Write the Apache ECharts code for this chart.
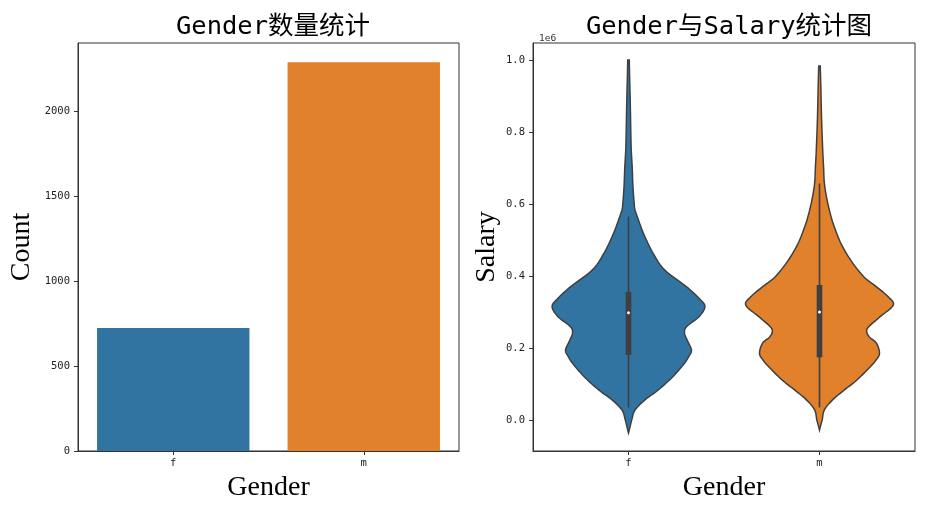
<!DOCTYPE html>
<html>
<head>
<meta charset="utf-8">
<script src="https://cdn.jsdelivr.net/npm/echarts@6/dist/echarts.min.js"></script>
<style>html,body{margin:0;padding:0;background:#fff}#c{width:929px;height:521px}</style>
</head>
<body>
<div id="c"></div>
<script>
// ---- data ----
const genders = ['f', 'm'];
const counts = [724, 2288];
const countTicks = [0, 500, 1000, 1500, 2000];
const salaryTicks = [0, 200000, 400000, 600000, 800000, 1000000];

// violin outlines: salary level and relative half-width (1 = widest)
const fLevels = [1000000, 950000, 900000, 850000, 800000, 750000, 700000, 650000, 600000, 583000, 556000, 530000, 509000, 463000, 417000, 370000, 338000, 315000, 287000, 259000, 241000, 220000, 194000, 175000, 157000, 120000, 83000, 56000, 28000, 0, -20000, -36000];
const fWidths = [0.010, 0.015, 0.021, 0.026, 0.030, 0.036, 0.049, 0.058, 0.075, 0.086, 0.129, 0.174, 0.215, 0.322, 0.472, 0.760, 0.923, 1.0, 0.923, 0.759, 0.734, 0.772, 0.824, 0.785, 0.730, 0.579, 0.386, 0.215, 0.086, 0.042, 0.019, 0];
const mLevels = [983000, 930000, 880000, 830000, 750000, 700000, 657000, 611000, 565000, 537000, 491000, 444000, 398000, 370000, 342000, 319000, 287000, 259000, 245000, 230000, 213000, 185000, 165000, 148000, 111000, 83000, 56000, 28000, 0, -15000, -28000];
const mWidths = [0.010, 0.017, 0.022, 0.028, 0.042, 0.054, 0.064, 0.099, 0.151, 0.193, 0.279, 0.408, 0.579, 0.746, 0.901, 0.965, 0.794, 0.644, 0.618, 0.656, 0.746, 0.785, 0.734, 0.665, 0.489, 0.322, 0.171, 0.064, 0.035, 0.015, 0];

// inner box statistics
const q1 = [181000, 174000];
const medians = [298000, 300000];
const q3 = [356000, 375000];
const whiskerLow = [35000, 35000];
const whiskerHigh = [565000, 657000];

const palette = ['#3274A1', '#E1812C'];
const levelsAll = [fLevels, mLevels];
const widthsAll = [fWidths, mWidths];

const titleFont = "'DejaVu Sans Mono', 'Noto Sans CJK SC', monospace";
const tickFont = "'DejaVu Sans Mono', monospace";
const serif = "'Liberation Serif', 'DejaVu Serif', serif";
const dark = '#3f3f3f';

function catmull(pts, n) {
  const out = [];
  for (let j = 0; j < pts.length - 1; j++) {
    const p0 = pts[j - 1] || pts[j], p1 = pts[j], p2 = pts[j + 1], p3 = pts[j + 2] || pts[j + 1];
    for (let s = 0; s < n; s++) {
      const t = s / n, t2 = t * t, t3 = t2 * t;
      const f = k => 0.5 * ((2 * p1[k]) + (-p0[k] + p2[k]) * t + (2 * p0[k] - 5 * p1[k] + 4 * p2[k] - p3[k]) * t2 + (-p0[k] + 3 * p1[k] - 3 * p2[k] + p3[k]) * t3);
      out.push([Math.max(0, f(0)), f(1)]);
    }
  }
  out.push(pts[pts.length - 1]);
  return out;
}

function renderViolin(params, api) {
  const i = api.value(0);
  const lv = levelsAll[i], wd = widthsAll[i];
  const band = api.size([1, 0])[0];
  const half = band * 0.4;
  const cx = api.coord([i, 0])[0];
  const pts = lv.map((s, k) => [wd[k] * half, api.coord([i, s])[1]]);
  const curve = catmull(pts, 10);
  const right = curve.map(p => [cx + p[0], p[1]]);
  const left = curve.slice().reverse().map(p => [cx - p[0], p[1]]);
  const yq1 = api.coord([i, q1[i]])[1], yq3 = api.coord([i, q3[i]])[1];
  const ylo = api.coord([i, whiskerLow[i]])[1], yhi = api.coord([i, whiskerHigh[i]])[1];
  const ymed = api.coord([i, medians[i]])[1];
  return {
    type: 'group',
    children: [
      { type: 'polygon', shape: { points: right.concat(left) },
        style: { fill: palette[i], stroke: dark, lineWidth: 1.5 } },
      { type: 'line', shape: { x1: cx, y1: yhi, x2: cx, y2: ylo },
        style: { stroke: dark, lineWidth: 1.6 } },
      { type: 'rect', shape: { x: cx - 2.8, y: yq3, width: 5.6, height: yq1 - yq3 },
        style: { fill: dark } },
      { type: 'circle', shape: { cx: cx, cy: ymed, r: 1.5 },
        style: { fill: '#fff' } }
    ]
  };
}

const chart = echarts.init(document.getElementById('c'), null, { renderer: 'canvas' });
const axisLineStyle = { color: '#333', width: 1 };
const tickStyle = { show: true, length: 4, lineStyle: { color: '#333' } };
const option = {
  animation: false,
  backgroundColor: '#fff',
  title: [
    { text: 'Gender数量统计', left: 268, top: 10, textAlign: 'center',
      textStyle: { fontFamily: titleFont, fontSize: 25.5, fontWeight: 'normal', color: '#000' } },
    { text: 'Gender与Salary统计图', left: 724, top: 10, textAlign: 'center',
      textStyle: { fontFamily: titleFont, fontSize: 25.5, fontWeight: 'normal', color: '#000' } },
    { text: '1e6', left: 534, top: 29,
      textStyle: { fontFamily: tickFont, fontSize: 9.5, fontWeight: 'normal', color: '#333' } }
  ],
  grid: [
    { left: 78, top: 43, width: 381, height: 408, show: true, borderColor: '#333', borderWidth: 1, backgroundColor: 'transparent' },
    { left: 533, top: 43, width: 382, height: 408, show: true, borderColor: '#333', borderWidth: 1, backgroundColor: 'transparent' }
  ],
  xAxis: [
    { type: 'category', gridIndex: 0, data: genders, boundaryGap: true,
      axisLine: { onZero: false, lineStyle: axisLineStyle },
      axisTick: Object.assign({ alignWithLabel: true }, tickStyle),
      axisLabel: { fontFamily: tickFont, fontSize: 10.5, color: '#222', margin: 7 },
      name: 'Gender', nameLocation: 'middle', nameGap: 22,
      nameTextStyle: { fontFamily: serif, fontSize: 28, color: '#000' } },
    { type: 'category', gridIndex: 1, data: genders, boundaryGap: true,
      axisLine: { onZero: false, lineStyle: axisLineStyle },
      axisTick: Object.assign({ alignWithLabel: true }, tickStyle),
      axisLabel: { fontFamily: tickFont, fontSize: 10.5, color: '#222', margin: 7 },
      name: 'Gender', nameLocation: 'middle', nameGap: 22,
      nameTextStyle: { fontFamily: serif, fontSize: 28, color: '#000' } }
  ],
  yAxis: [
    { type: 'value', gridIndex: 0, min: 0, max: 2402,
      splitLine: { show: false },
      axisLine: { show: true, lineStyle: axisLineStyle },
      axisTick: Object.assign({ customValues: countTicks }, tickStyle),
      axisLabel: { customValues: countTicks, fontFamily: tickFont, fontSize: 10.5, color: '#222', margin: 8,
        formatter: v => String(Math.round(v)) },
      name: 'Count', nameLocation: 'middle', nameGap: 42,
      nameTextStyle: { fontFamily: serif, fontSize: 28, color: '#000' } },
    { type: 'value', gridIndex: 1, min: -86000, max: 1047000,
      splitLine: { show: false },
      axisLine: { show: true, lineStyle: axisLineStyle },
      axisTick: Object.assign({ customValues: salaryTicks }, tickStyle),
      axisLabel: { customValues: salaryTicks, fontFamily: tickFont, fontSize: 10.5, color: '#222', margin: 8,
        formatter: v => (v / 1e6).toFixed(1) },
      name: 'Salary', nameLocation: 'middle', nameGap: 32,
      nameTextStyle: { fontFamily: serif, fontSize: 28, color: '#000' } }
  ],
  series: [
    { type: 'bar', xAxisIndex: 0, yAxisIndex: 0, barWidth: '80%',
      data: counts.map((v, i) => ({ value: v, itemStyle: { color: palette[i] } })) },
    { type: 'custom', xAxisIndex: 1, yAxisIndex: 1, renderItem: renderViolin, clip: false,
      data: genders.map((g, i) => [i, medians[i]]) }
  ]
};
chart.setOption(option);
</script>
</body>
</html>
